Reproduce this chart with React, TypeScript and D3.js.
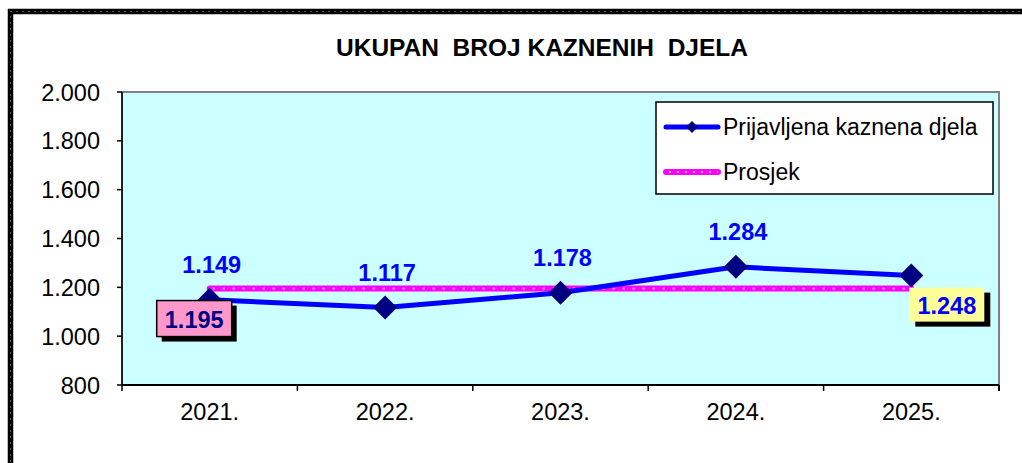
import React from "react";
import * as d3 from "d3";

const categories = ["2021.", "2022.", "2023.", "2024.", "2025."];
const values = [1149, 1117, 1178, 1284, 1248];
const average = [1195, 1195, 1195, 1195, 1195];
const yTicks = [800, 1000, 1200, 1400, 1600, 1800, 2000];
const title = "UKUPAN  BROJ KAZNENIH  DJELA";
const seriesNames = ["Prijavljena kaznena djela", "Prosjek"];

const W = 1022;
const H = 463;
const left = 122, right = 999, top = 92, bottom = 385;

const fmt = (v: number) => {
  const s = String(v);
  return s.length > 3 ? s.slice(0, s.length - 3) + "." + s.slice(-3) : s;
};

export default function App() {
  const x = d3.scaleBand<string>().domain(categories).range([left, right]);
  const cx = (c: string) => (x(c) as number) + x.bandwidth() / 2;
  const y = d3.scaleLinear().domain([800, 2000]).range([bottom, top]);
  const line = d3.line<number>().x((_, i) => cx(categories[i])).y((d) => y(d));
  const font = "'Liberation Sans', Arial, sans-serif";
  const diamond = (px: number, py: number, r: number) =>
    `M${px},${py - r}L${px + r},${py}L${px},${py + r}L${px - r},${py}Z`;

  const first = 0, last = categories.length - 1;
  const avgX0 = cx(categories[first]);
  const avgY = y(average[0]);
  const lastX = cx(categories[last]);

  return (
    <svg width={W} height={H} style={{ position: "absolute", left: 0, top: 0, display: "block" }} fontFamily={font}>
      <rect x={0} y={0} width={W} height={H} fill="#fff" />
      {/* outer wavy border */}
      <rect x={10.5} y={11.5} width={1030} height={500} fill="none" stroke="#000" strokeWidth={5.5} />
      <rect x={10.5} y={11.5} width={1030} height={500} fill="none" stroke="#fff" strokeWidth={1} strokeDasharray="1.2 4.8" opacity={0.6} />

      <text x={542} y={56} textAnchor="middle" fontWeight="bold" fontSize={24.5} fill="#000" xmlSpace="preserve" style={{ whiteSpace: "pre" }}>
        {title}
      </text>

      {/* plot area */}
      <rect x={left} y={top} width={right - left} height={bottom - top} fill="#CCFFFF" stroke="#808080" strokeWidth={2} />
      <line x1={left} y1={bottom} x2={right} y2={bottom} stroke="#000" strokeWidth={2} />
      <line x1={left} y1={top} x2={left} y2={bottom} stroke="#000" strokeWidth={1.5} />

      {yTicks.map((t) => (
        <g key={t}>
          <line x1={left - 5} x2={left} y1={y(t)} y2={y(t)} stroke="#000" strokeWidth={1.5} />
          <text x={100} y={y(t) + 8.5} textAnchor="end" fontSize={23.5} fill="#000">{fmt(t)}</text>
        </g>
      ))}
      {categories.map((c, i) => (
        <g key={c}>
          <line x1={x(c) as number} x2={x(c) as number} y1={bottom} y2={bottom + 6} stroke="#000" strokeWidth={1.5} />
          {i === last && <line x1={right} x2={right} y1={bottom} y2={bottom + 6} stroke="#000" strokeWidth={2} />}
          <text x={cx(c)} y={420} textAnchor="middle" fontSize={23.5} fill="#000">{c}</text>
        </g>
      ))}

      {/* average line */}
      <path d={line(average) as string} fill="none" stroke="#FF00FF" strokeWidth={6} strokeLinecap="round" />
      <path d={line(average) as string} fill="none" stroke="#FFC8FF" strokeWidth={2} strokeDasharray="2 8" strokeDashoffset={-3} />

      {/* main series */}
      <path d={line(values) as string} fill="none" stroke="#0000FF" strokeWidth={5} strokeLinejoin="round" />
      {values.map((v, i) => (
        <path key={i} d={diamond(cx(categories[i]), y(v), 12)} fill="#000080" />
      ))}
      {values.map((v, i) =>
        i === last ? null : (
          <text key={"l" + i} x={cx(categories[i]) + 2} y={y(v) - 27} textAnchor="middle" fontWeight="bold" fontSize={23.5} fill="#0000FF">
            {fmt(v)}
          </text>
        )
      )}

      {/* average label box */}
      <rect x={avgX0 - 48} y={avgY + 17} width={75} height={36} fill="#000" />
      <rect x={avgX0 - 53} y={avgY + 12} width={75} height={36} fill="#FF99CC" stroke="#000" strokeWidth={1.5} />
      <text x={avgX0 - 15.5} y={avgY + 39} textAnchor="middle" fontWeight="bold" fontSize={23.5} fill="#000080">{fmt(average[0])}</text>

      {/* last value label box */}
      <rect x={lastX + 4} y={y(values[last]) + 17} width={75} height={34} fill="#000" />
      <rect x={lastX - 2} y={y(values[last]) + 12} width={75} height={34} fill="#FFFF99" />
      <text x={lastX + 35.5} y={y(values[last]) + 38} textAnchor="middle" fontWeight="bold" fontSize={23.5} fill="#0000FF">{fmt(values[last])}</text>

      {/* legend */}
      <rect x={656} y={102} width={337} height={92} fill="#fff" stroke="#000" strokeWidth={1.5} />
      <line x1={666} x2={718} y1={127} y2={127} stroke="#0000FF" strokeWidth={5} strokeLinecap="round" />
      <path d={diamond(692, 127, 6)} fill="#000080" />
      <text x={723} y={135} fontSize={23} fill="#000">{seriesNames[0]}</text>
      <line x1={666} x2={718} y1={172} y2={172} stroke="#FF00FF" strokeWidth={6} strokeLinecap="round" />
      <line x1={669} x2={718} y1={172} y2={172} stroke="#FFC8FF" strokeWidth={2} strokeDasharray="2 6" />
      <text x={723} y={180} fontSize={23} fill="#000">{seriesNames[1]}</text>
    </svg>
  );
}
